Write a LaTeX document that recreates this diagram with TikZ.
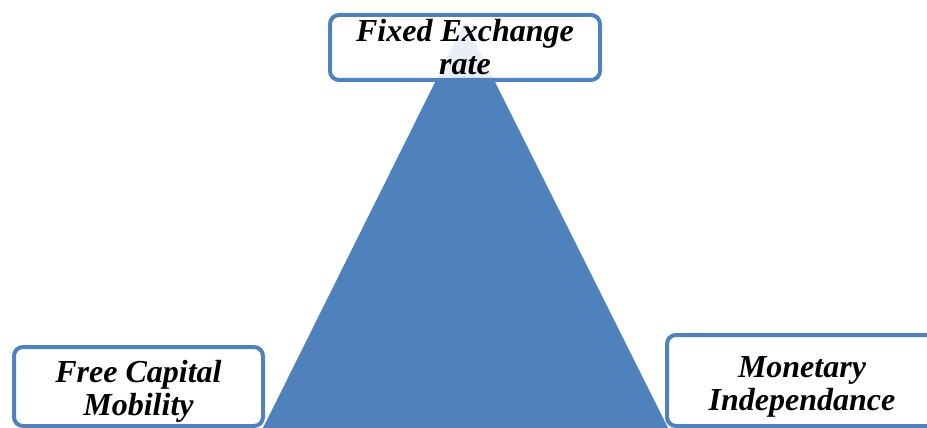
\documentclass[tikz,border=0pt]{standalone}
\usepackage{fontspec}
\setmainfont{Liberation Serif}
\usetikzlibrary{positioning}
\definecolor{trianblue}{HTML}{4F81BD}

\begin{document}
\begin{tikzpicture}[
        x=1pt, y=-1pt,
        goal/.style={rectangle, draw=trianblue, line width=4pt, rounded corners=9pt, fill=white, fill opacity=0.88, text opacity=1, align=center, font=\fontsize{32}{33}\selectfont\bfseries\itshape},
        trian/.style={fill=trianblue, draw=none}
    ]
        \useasboundingbox (0,0) rectangle (927,428);
        \clip (0,0) rectangle (927,428);
        \coordinate (apex) at (465,22);
        \coordinate (baseL) at (261,432);
        \coordinate (baseR) at (670,432);
        \fill[trian] (apex) -- (baseL) -- (baseR) -- cycle;

        \node[goal, minimum width=270pt, minimum height=65pt] (fixed) at (465,47.5) {Fixed Exchange\\rate};
        \node[goal, text height=64pt, minimum width=249pt, minimum height=79pt] (capital) at (138.5,386.5) {Free Capital\\Mobility};
        \node[goal, text height=66pt, minimum width=270pt, minimum height=91pt] (monetary) at (802,380.5) {Monetary\\Independance};
    \end{tikzpicture}
\end{document}
